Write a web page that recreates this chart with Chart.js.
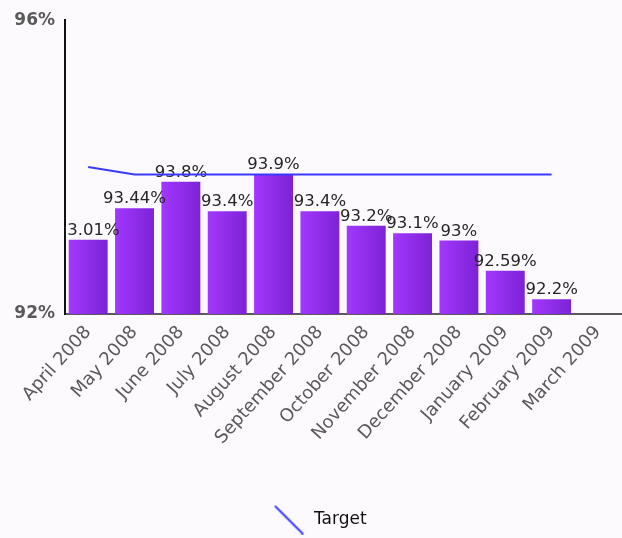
<!DOCTYPE html>
<html><head><meta charset="utf-8">
<script src="https://cdn.jsdelivr.net/npm/chart.js@4.4.1/dist/chart.umd.min.js"></script>
<style>
html,body{margin:0;padding:0;background:#fdfafd;}
#wrap{width:622px;height:538px;}
canvas{display:block;}
</style>
</head><body>
<div id="wrap"><canvas id="c" width="622" height="538"></canvas></div>
<script>
const months = ['April 2008','May 2008','June 2008','July 2008','August 2008','September 2008','October 2008','November 2008','December 2008','January 2009','February 2009','March 2009'];
const performance = [93.01, 93.44, 93.8, 93.4, 93.9, 93.4, 93.2, 93.1, 93, 92.59, 92.2, null];
const target = [94.0, 93.9, 93.9, 93.9, 93.9, 93.9, 93.9, 93.9, 93.9, 93.9, 93.9, null];
const yMin = 92;
const yMax = 96;
const targetLabel = 'Target';

const FONT = '"DejaVu Sans", Verdana, sans-serif';

// legend symbol: a diagonal line (drawn right of the icon's centre)
const legendIcon = document.createElement('canvas');
legendIcon.width = 44; legendIcon.height = 30;
(function(){
  const g = legendIcon.getContext('2d');
  g.strokeStyle = '#3a3aff'; g.lineWidth = 2; g.lineCap = 'round';
  g.beginPath(); g.moveTo(15, 2); g.lineTo(42, 29); g.stroke();
})();

const valueLabels = {
  id: 'valueLabels',
  afterDatasetDraw(chart, args) {
    if (args.index !== 0) return;
    const {ctx, chartArea} = chart;
    ctx.save();
    ctx.beginPath();
    ctx.rect(chartArea.left, 0, chartArea.right - chartArea.left, chart.height);
    ctx.clip();
    ctx.font = '16.5px ' + FONT;
    ctx.fillStyle = '#262626';
    ctx.textAlign = 'center';
    ctx.textBaseline = 'alphabetic';
    args.meta.data.forEach((el, i) => {
      const v = performance[i];
      if (v == null) return;
      ctx.fillText(v + '%', el.x, el.y - 5);
    });
    ctx.restore();
  }
};

new Chart(document.getElementById('c'), {
  data: {
    labels: months,
    datasets: [
      {
        type: 'bar',
        label: 'Performance',
        data: performance,
        order: 1,
        categoryPercentage: 1,
        barPercentage: 0.84,
        borderWidth: 0,
        backgroundColor: (ctx) => {
          const chart = ctx.chart;
          const xs = chart.scales && chart.scales.x;
          if (!xs || ctx.dataIndex === undefined || !xs.width) return '#8c2be8';
          const cx = xs.getPixelForValue(ctx.dataIndex);
          const w = (xs.width / months.length) * 0.84;
          const g = chart.ctx.createLinearGradient(cx - w / 2, 0, cx + w / 2, 0);
          g.addColorStop(0, '#a238fd');
          g.addColorStop(1, '#7d22d6');
          return g;
        }
      },
      {
        type: 'line',
        label: targetLabel,
        data: target,
        order: 0,
        borderColor: '#3a3aff',
        borderWidth: 2,
        pointRadius: 0,
        pointHoverRadius: 0,
        tension: 0,
        fill: false,
        pointStyle: legendIcon
      }
    ]
  },
  options: {
    responsive: false,
    devicePixelRatio: 1,
    animation: false,
    layout: { padding: { top: 19, right: -4, bottom: 0, left: 0 } },
    plugins: {
      tooltip: { enabled: false },
      legend: {
        position: 'bottom',
        labels: {
          filter: (item) => item.datasetIndex === 1,
          usePointStyle: true,
          pointStyleWidth: 46,
          boxWidth: 46,
          padding: 10,
          color: '#111',
          font: { family: FONT, size: 17 }
        }
      }
    },
    scales: {
      x: {
        offset: true,
        grid: { display: false, drawTicks: false },
        border: { display: true, color: '#5a5a5a', width: 2 },
        ticks: {
          autoSkip: false,
          maxRotation: 48,
          minRotation: 48,
          padding: 8,
          color: '#5a5a5a',
          font: { family: FONT, size: 18 }
        },
        afterFit: (s) => { s.height = 187; }
      },
      y: {
        min: yMin,
        max: yMax,
        grid: { display: false, drawTicks: false },
        border: { display: true, color: '#111', width: 2 },
        ticks: {
          stepSize: yMax - yMin,
          padding: 10,
          color: '#5a5a5a',
          font: { family: FONT, size: 17, weight: 'bold' },
          callback: (v) => v + '%'
        },
        afterFit: (s) => { s.width = 65; }
      }
    }
  },
  plugins: [valueLabels]
});
</script>
</body></html>
